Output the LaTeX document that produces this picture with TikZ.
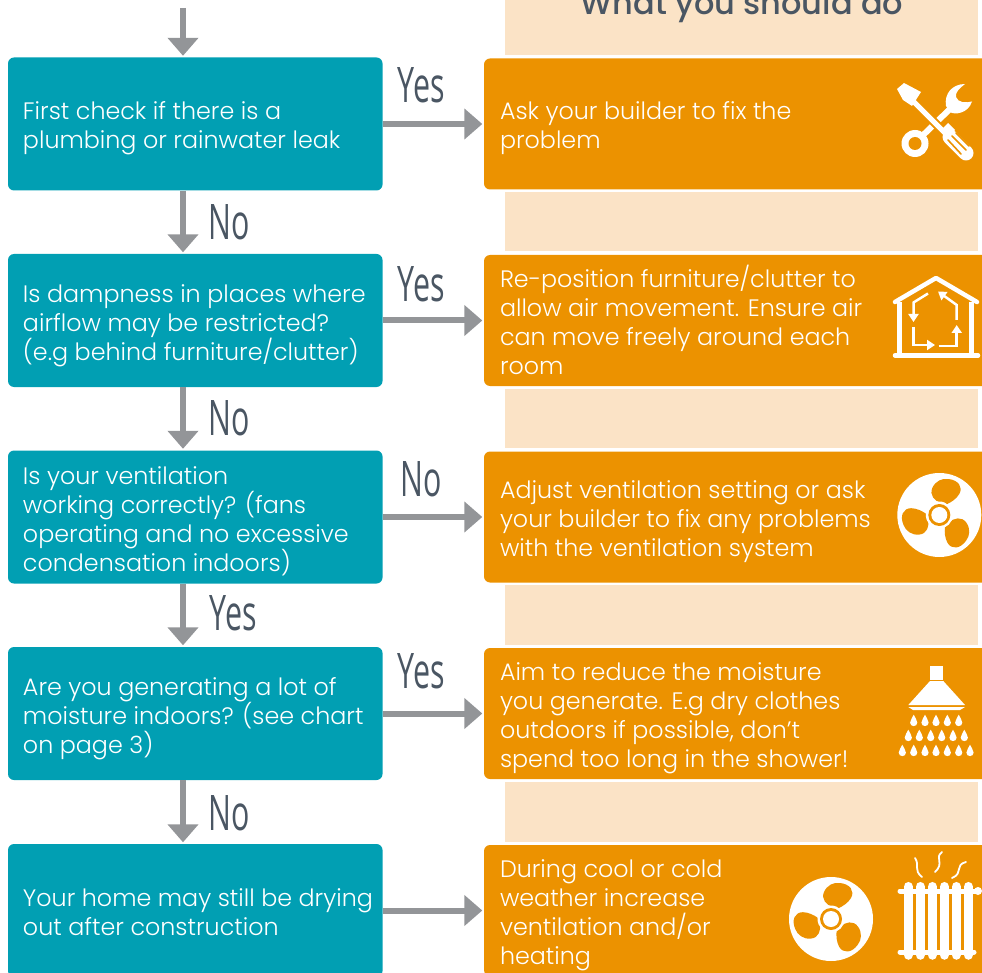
\documentclass[tikz,border=0pt]{standalone}
\usepackage{fontspec}
\setmainfont{Poppins}[UprightFont=* Light,BoldFont=* Medium]
\newfontfamily\labfont{Open Sans}
\usetikzlibrary{arrows.meta,calc}
\definecolor{tealc}{HTML}{019FB3}
\definecolor{orangec}{HTML}{EC9200}
\definecolor{peachc}{HTML}{FBE3C6}
\definecolor{greyc}{HTML}{939598}
\definecolor{inkc}{HTML}{4A5663}
\newcommand{\lab}[1]{\scalebox{.62}[1]{#1}}
\tikzset{
  x=1pt,y=-1pt,
  qbox/.style={fill=tealc,rounded corners=6pt,minimum width=374.5pt,minimum height=133pt,inner sep=0pt},
  abox/.style={fill=orangec,rounded corners=6pt,minimum width=516pt,minimum height=131pt,inner sep=0pt},
  qtext/.style={anchor=west,xshift=15pt,align=left,text=white,inner sep=0pt,font=\fontsize{23.8}{29}\selectfont},
  atext/.style={anchor=west,xshift=16pt,align=left,text=white,inner sep=0pt,font=\fontsize{23.8}{29}\selectfont},
  flow/.style={draw=greyc,line width=6pt,-{Triangle[length=18pt,width=30pt]},shorten >=1.5pt},
  yn/.style={text=inkc,inner sep=0pt,font=\labfont\fontsize{49}{49}\selectfont},
  band/.style={fill=peachc},
  iconline/.style={draw=white,line cap=round,line join=round},
  hflow/.style={draw=white,line width=2.5pt,-{Triangle[length=8pt,width=10pt]}},
  fan/.pic={
    \fill[white] (0,0) circle (42);
    \foreach \r in {0,120,240}{
      \fill[orangec,rotate=\r] (2,-12) .. controls (-5,-14) and (-10,-20) .. (-7,-27) .. controls (-4,-34) and (3,-37) .. (9,-36) .. controls (19,-35) and (24,-28) .. (20,-21) .. controls (17,-16) and (12,-13) .. (8,-11) -- cycle;
    }
    \fill[white] (0,0) circle (13.5);
    \fill[orangec] (0,0) circle (11);
    \fill[white] (0,0) circle (8);
  },
  dropshape/.pic={
    \fill[white] (0,-6) .. controls (1,-3) and (3.6,-1) .. (3.6,2) .. controls (3.6,6.5) and (-3.6,6.5) .. (-3.6,2) .. controls (-3.6,-1) and (-1,-3) .. (0,-6) -- cycle;
  }
}
\begin{document}
\begin{tikzpicture}
\useasboundingbox (0,0) rectangle (982,973);
\clip (0,0) rectangle (982,973);
% peach bands
\fill[band] (505,0) rectangle (978,55);
\fill[band] (505,192) rectangle (978,251);
\fill[band] (505,389) rectangle (978,448);
\fill[band] (505,585) rectangle (978,645);
\fill[band] (505,782) rectangle (978,842);
\node[text=inkc,inner sep=0pt,font=\bfseries\fontsize{32}{34}\selectfont] (head) at (742,7) {What you should do};
% question boxes
\node[qbox] (q1) at (195.25,124) {};
\node[qbox] (q2) at (195.25,320.5) {};
\node[qbox] (q3) at (195.25,517) {};
\node[qbox] (q4) at (195.25,713.5) {};
\node[qbox] (q5) at (195.25,910.5) {};
% answer boxes
\node[abox] (a1) at (742,124) {};
\node[abox] (a2) at (742,320.5) {};
\node[abox] (a3) at (742,517) {};
\node[abox] (a4) at (742,713.5) {};
\node[abox] (a5) at (742,910.5) {};
% question text
\node[qtext] (qt1) at ($(q1.west)+(0,4)$) {First check if there is a\\plumbing or rainwater leak};
\node[qtext] (qt2) at ($(q2.west)+(0,5.5)$) {Is dampness in places where\\airflow may be restricted?\\(e.g behind furniture/clutter)};
\node[qtext] (qt3) at ($(q3.west)+(0,4)$) {Is your ventilation\\working correctly? (fans\\operating and no excessive\\condensation indoors)};
\node[qtext] (qt4) at ($(q4.west)+(0,5)$) {Are you generating a lot of\\moisture indoors? (see chart\\on page 3)};
\node[qtext] (qt5) at ($(q5.west)+(0,2)$) {Your home may still be drying\\out after construction};
% answer text
\node[atext] (at1) at ($(a1.west)+(0,4)$) {Ask your builder to fix the\\problem};
\node[atext] (at2) at ($(a2.west)+(0,-1)$) {Re-position furniture/clutter to\\allow air movement. Ensure air\\can move freely around each\\room};
\node[atext] (at3) at ($(a3.west)+(0,5)$) {Adjust ventilation setting or ask\\your builder to fix any problems\\with the ventilation system};
\node[atext] (at4) at ($(a4.west)+(0,5)$) {Aim to reduce the moisture\\you generate. E.g dry clothes\\outdoors if possible, don’t\\spend too long in the shower!};
\node[atext] (at5) at ($(a5.west)+(0,5)$) {During cool or cold\\weather increase\\ventilation and/or\\heating};
% connectors
\coordinate (axis) at (183,0);
\coordinate (start) at (183,8);
\draw[flow] (start) -- (axis |- q1.north);
\draw[flow] (axis |- q1.south) -- (axis |- q2.north);
\draw[flow] (axis |- q2.south) -- (axis |- q3.north);
\draw[flow] (axis |- q3.south) -- (axis |- q4.north);
\draw[flow] (axis |- q4.south) -- (axis |- q5.north);
\draw[flow] (q1.east) -- (q1.east -| a1.west);
\draw[flow] (q2.east) -- (q2.east -| a2.west);
\draw[flow] (q3.east) -- (q3.east -| a3.west);
\draw[flow] (q4.east) -- (q4.east -| a4.west);
\draw[flow] (q5.east) -- (q5.east -| a5.west);
% labels
\node[yn] (y1) at (421,85) {\lab{Yes}};
\node[yn] (y2) at (421,284) {\lab{Yes}};
\node[yn] (n3) at (421,479) {\lab{No}};
\node[yn] (y4) at (421,671) {\lab{Yes}};
\node[yn] (n1) at (229,222) {\lab{No}};
\node[yn] (n2) at (229,418) {\lab{No}};
\node[yn] (y3) at (233,613) {\lab{Yes}};
\node[yn] (n4) at (229,813) {\lab{No}};
% tools icon: wrench
\fill[white] (915,143.5) circle (13.5);
\draw[white,line width=6pt] (917,141) -- (952,107);
\fill[white] (965,84) .. controls (952,84) and (944,94) .. (946,106) -- (950,112) .. controls (954,115) and (968,114) .. (972,101.5) .. controls (966,103) and (958,103) .. (956,97) .. controls (955,92) and (960,88) .. (965,84) -- cycle;
\fill[orangec] (915,143.5) circle (6.5);
% tools icon: screwdriver
\draw[orangec,line width=9pt] (925,113) -- (940,128);
\draw[white,line width=5pt] (908,96) -- (945,133);
\fill[white] (897,89) -- (904,83) -- (921,92) -- (912,106) -- (903,100) -- cycle;
\draw[white,line width=15pt,line cap=round] (950,137) -- (966,153);
\fill[white] (941,130) -- (948,123) -- (955,130) -- (948,137) -- cycle;
\draw[orangec,line width=1.6pt,line cap=round] (948,140) -- (961,154);
\draw[orangec,line width=1.6pt,line cap=round] (952,136) -- (966,150);
\draw[orangec,line width=1.6pt,line cap=round] (956,133) -- (969,146);
% house icon
\draw[iconline,line width=4.5pt] (895,302) -- (936,278) -- (977,302);
\draw[iconline,line width=4.5pt,line cap=butt] (899.5,302) -- (899.5,355);
\draw[iconline,line width=4.5pt,line cap=butt] (971.5,302) -- (971.5,355);
\draw[iconline,line width=4.5pt] (895,355.5) -- (978,355.5);
\draw[hflow] (928,293.5) -- (913.5,302.5) -- (913.5,322);
\draw[hflow] (913.5,327) -- (913.5,345) -- (935,345);
\draw[hflow] (938.5,346) -- (956.7,346) -- (956.7,325);
\draw[hflow] (956.7,320) -- (956.7,305) -- (938,291.5);
% fans
\pic at (939.3,515) {fan};
\pic at (831,919) {fan};
% shower
\fill[white] (930,666) rectangle (943.3,680);
\fill[white] (930,681) -- (943.3,681) -- (965,705) -- (908.3,705) -- cycle;
\fill[white] (908.3,707) -- (965,707) -- (960,710) -- (913,710) -- cycle;
\foreach \x in {913.7,925,936,947.3,958.7} { \pic at (\x,720.7) {dropshape}; }
\foreach \x in {908.3,919.3,930.7,941.7,953,964.3} { \pic at (\x,735.7) {dropshape}; }
\foreach \x in {902.3,913.7,925,936,947.3,958.7,970} { \pic at (\x,750.7) {dropshape}; }
% radiator
\foreach \x in {908.3,920.3,932.3,944.3,956.3,968.3} {
  \draw[white,line width=9.5pt,line cap=round] (\x,886.7) -- (\x,955);
}
\draw[white,line width=5pt,line cap=round] (900,891) -- (978,891);
\draw[white,line width=5pt,line cap=round] (900,952) -- (974,952);
\fill[white] (978,891) circle (4);
\draw[iconline,line width=1.8pt] (915,858) .. controls (920,865) and (913,870) .. (922,877);
\draw[iconline,line width=1.8pt] (942,852) .. controls (934,858) and (945,863) .. (935,872);
\draw[iconline,line width=1.8pt] (966,862) .. controls (954,865) and (964,873) .. (952,878);
\end{tikzpicture}
\end{document}
